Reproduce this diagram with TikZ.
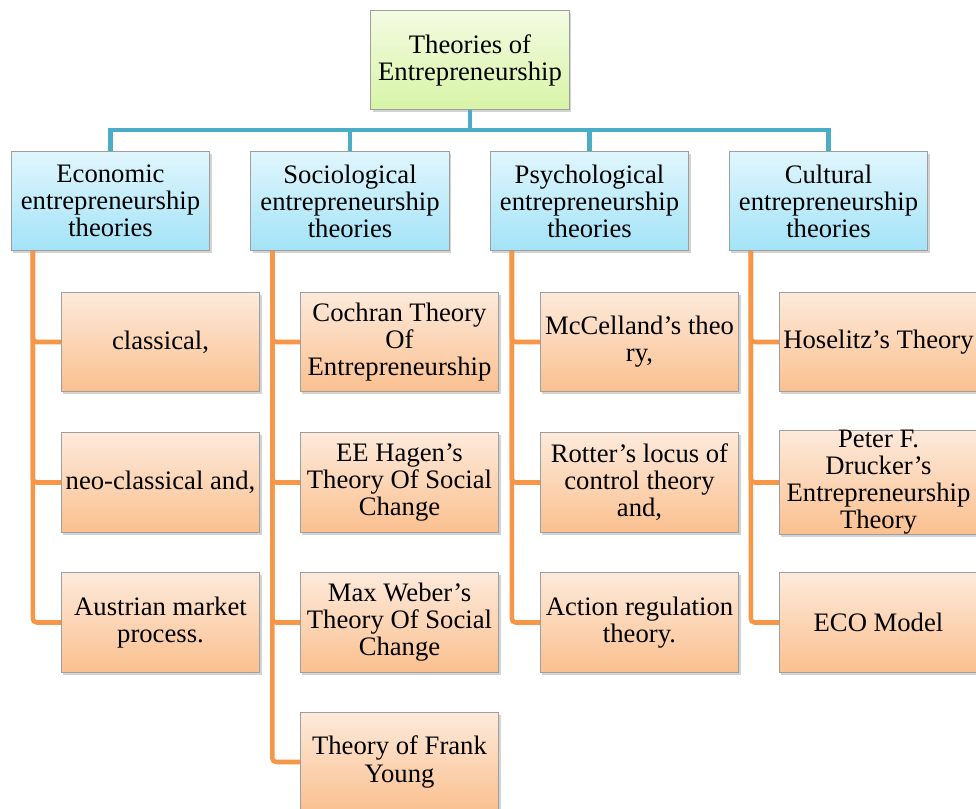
\documentclass[tikz,border=0pt]{standalone}
\usepackage{fontspec}
\setmainfont{Liberation Serif}
\usepackage{xcolor}
\usepackage{tikz}
\usetikzlibrary{shadows}

\definecolor{rootTop}{HTML}{F4FBE2}
\definecolor{rootBot}{HTML}{D7F4A6}
\definecolor{typeTop}{HTML}{E0F6FD}
\definecolor{typeBot}{HTML}{A3E3F7}
\definecolor{leafTop}{HTML}{FDEADB}
\definecolor{leafBot}{HTML}{FAC08F}
\definecolor{busBlue}{HTML}{4BACC6}
\definecolor{stemOrange}{HTML}{F79646}

\begin{document}
\begin{tikzpicture}[x=0.75pt,y=-0.75pt]
    \tikzstyle{box}=[draw=gray!75, line width=0.6pt, minimum width=149pt, minimum height=74.5pt,
        inner sep=0pt, align=center, font=\fontsize{20}{20.3}\selectfont,
        drop shadow={opacity=0.35, shadow xshift=1.5pt, shadow yshift=-1.8pt}]
\tikzstyle{rootbox}=[box, top color=rootTop, bottom color=rootBot]
\tikzstyle{typebox}=[box, top color=typeTop, bottom color=typeBot]
\tikzstyle{leafbox}=[box, top color=leafTop, bottom color=leafBot]
\tikzstyle{bus}=[draw=busBlue, line width=3.4pt]
\tikzstyle{stem}=[draw=stemOrange, line width=3.4pt, rounded corners=3pt]
\useasboundingbox (0,0) rectangle (976,809);
\node[rootbox] (root) at (470,60) {Theories of\\Entrepreneurship};
\node[typebox] (eco) at (110.5,201) {Economic\\entrepreneurship\\theories};
\node[typebox] (soc) at (350,201) {Sociological\\entrepreneurship\\theories};
\node[typebox] (psy) at (589.5,201) {Psychological\\entrepreneurship\\theories};
\node[typebox] (cul) at (828.5,201) {Cultural\\entrepreneurship\\theories};
\coordinate (hub) at (470,130);
\draw[bus] (root.south) -- (hub) -| (eco.north);
\draw[bus] (hub) -| (soc.north);
\draw[bus] (hub) -| (psy.north);
\draw[bus] (hub) -| (cul.north);
\node[leafbox] (eco1) at (160.5,342) {classical,};
\node[leafbox] (eco2) at (160.5,482.5) {neo-classical and,};
\node[leafbox] (eco3) at (160.5,622.5) {Austrian market\\process.};
\node[leafbox] (soc1) at (399.5,342) {Cochran Theory\\Of\\Entrepreneurship};
\node[leafbox] (soc2) at (399.5,482.5) {EE Hagen’s\\Theory Of Social\\Change};
\node[leafbox] (soc3) at (399.5,622.5) {Max Weber’s\\Theory Of Social\\Change};
\node[leafbox] (soc4) at (399.5,762) {Theory of Frank\\Young};
\node[leafbox] (psy1) at (639.5,342) {McCelland’s theo\\ry,};
\node[leafbox] (psy2) at (639.5,482.5) {Rotter’s locus of\\control theory\\and,};
\node[leafbox] (psy3) at (639.5,622.5) {Action regulation\\theory.};
\node[leafbox] (cul1) at (878.5,342) {Hoselitz’s Theory};
\node[leafbox] (cul2) at (878.5,482.5) {Peter F.\\Drucker’s\\Entrepreneurship\\Theory};
\node[leafbox] (cul3) at (878.5,622.5) {ECO Model};
\draw[stem] ([xshift=16.5pt]eco.south west) |- (eco1.west);
\draw[stem] ([xshift=16.5pt]eco.south west) |- (eco2.west);
\draw[stem] ([xshift=16.5pt]eco.south west) |- (eco3.west);
\draw[stem] ([xshift=16.5pt]soc.south west) |- (soc1.west);
\draw[stem] ([xshift=16.5pt]soc.south west) |- (soc2.west);
\draw[stem] ([xshift=16.5pt]soc.south west) |- (soc3.west);
\draw[stem] ([xshift=16.5pt]soc.south west) |- (soc4.west);
\draw[stem] ([xshift=16.5pt]psy.south west) |- (psy1.west);
\draw[stem] ([xshift=16.5pt]psy.south west) |- (psy2.west);
\draw[stem] ([xshift=16.5pt]psy.south west) |- (psy3.west);
\draw[stem] ([xshift=16.5pt]cul.south west) |- (cul1.west);
\draw[stem] ([xshift=16.5pt]cul.south west) |- (cul2.west);
\draw[stem] ([xshift=16.5pt]cul.south west) |- (cul3.west);
\end{tikzpicture}
\end{document}
